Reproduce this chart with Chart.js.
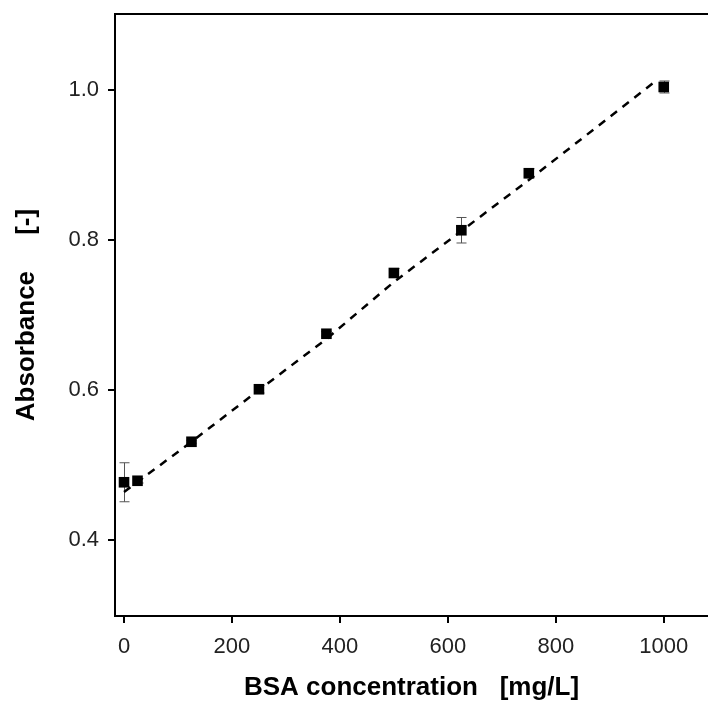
<!DOCTYPE html>
<html>
<head>
<meta charset="utf-8">
<script src="https://cdn.jsdelivr.net/npm/chart.js@4"></script>
<style>
  html, body { margin: 0; padding: 0; background: #fff; }
  #wrap { width: 708px; height: 702px; }
</style>
</head>
<body>
<div id="wrap"><canvas id="bsa-chart" width="708" height="702"></canvas></div>
<script>
'use strict';

// 測定点 (BSA 濃度 mg/L → 吸光度)
const BSA_CONC   = [0, 25, 125, 250, 375, 500, 625, 750, 1000];
const ABSORBANCE = [0.477, 0.479, 0.531, 0.601, 0.675, 0.756, 0.813, 0.889, 1.004];
const ABS_ERROR  = [0.026, 0.003, 0.002, 0.005, 0.003, 0.006, 0.017, 0.006, 0.008];

// 破線（フィット線）— 図から読み取り
const FIT_X = [0, 125, 250, 375, 500, 625, 750, 980];
const FIT_Y = [0.464, 0.531, 0.600, 0.668, 0.744, 0.812, 0.880, 1.009];

const X_TICKS = [0, 200, 400, 600, 800, 1000];
const Y_TICKS = [0.4, 0.6, 0.8, 1.0];

const FONT = '"Liberation Sans", Arial, sans-serif';

// エラーバー（マーカーの下に描く）
const errorBars = {
  id: 'errorBars',
  beforeDatasetsDraw(chart) {
    const { ctx, scales: { x, y } } = chart;
    ctx.save();
    ctx.strokeStyle = '#555';
    ctx.lineWidth = 1;
    BSA_CONC.forEach((c, i) => {
      const e = ABS_ERROR[i];
      if (!e) return;
      const px = Math.round(x.getPixelForValue(c)) + 0.5;
      const top = y.getPixelForValue(ABSORBANCE[i] + e);
      const bot = y.getPixelForValue(ABSORBANCE[i] - e);
      ctx.beginPath();
      ctx.moveTo(px, top); ctx.lineTo(px, bot);
      ctx.moveTo(px - 5, top); ctx.lineTo(px + 5, top);
      ctx.moveTo(px - 5, bot); ctx.lineTo(px + 5, bot);
      ctx.stroke();
    });
    ctx.restore();
  },
};

// 上枠
const topFrame = {
  id: 'topFrame',
  afterDraw(chart) {
    const { ctx, chartArea: a } = chart;
    ctx.save();
    ctx.strokeStyle = '#000';
    ctx.lineWidth = 2;
    ctx.beginPath();
    ctx.moveTo(a.left - 1, a.top);
    ctx.lineTo(a.right, a.top);
    ctx.stroke();
    ctx.restore();
  },
};

// ラベルによる自動余白を無効化
function noPad(s) {
  s.paddingTop = 0; s.paddingBottom = 0;
  s.paddingLeft = 0; s.paddingRight = 0;
}

new Chart(document.getElementById('bsa-chart'), {
  type: 'scatter',
  data: {
    datasets: [
      {
        label: 'data',
        data: BSA_CONC.map((c, i) => ({ x: c, y: ABSORBANCE[i] })),
        pointStyle: 'rect',
        pointRadius: 7.5,
        backgroundColor: '#000',
        borderColor: '#000',
        borderWidth: 0,
        order: 0,
      },
      {
        label: 'fit',
        type: 'line',
        data: FIT_X.map((c, i) => ({ x: c, y: FIT_Y[i] })),
        borderColor: '#000',
        borderWidth: 2.5,
        borderDash: [8, 7],
        pointRadius: 0,
        fill: false,
        tension: 0,
        order: 1,
      },
    ],
  },
  options: {
    responsive: false,
    animation: false,
    layout: { autoPadding: false, padding: { top: 14, right: 0, left: 0, bottom: 0 } },
    plugins: { legend: { display: false }, tooltip: { enabled: false } },
    scales: {
      x: {
        type: 'linear',
        min: -16.7,
        max: 1082,
        afterBuildTicks: s => { s.ticks = X_TICKS.map(v => ({ value: v })); },
        afterFit: s => { s.height = 86; noPad(s); },
        ticks: {
          color: '#222',
          font: { family: FONT, size: 22 },
          padding: 11,
          maxRotation: 0,
          callback: v => String(v),
        },
        grid: { drawOnChartArea: false, drawTicks: true, tickLength: 7, color: '#000', lineWidth: 2 },
        border: { display: true, color: '#000', width: 2 },
        title: {
          display: true,
          text: 'BSA concentration   [mg/L]',
          color: '#000',
          font: { family: FONT, size: 26, weight: 'bold' },
          padding: { top: 0, bottom: -1 },
        },
      },
      y: {
        type: 'linear',
        min: 0.2987,
        max: 1.1013,
        afterBuildTicks: s => { s.ticks = Y_TICKS.map(v => ({ value: v })); },
        afterFit: s => { s.width = 115; noPad(s); },
        ticks: {
          color: '#222',
          font: { family: FONT, size: 22 },
          padding: 9,
          callback: v => Number(v).toFixed(1),
        },
        grid: { drawOnChartArea: false, drawTicks: true, tickLength: 7, color: '#000', lineWidth: 2 },
        border: { display: true, color: '#000', width: 2 },
        title: {
          display: true,
          text: 'Absorbance     [-]',
          color: '#000',
          font: { family: FONT, size: 26, weight: 'bold' },
          padding: { top: 11, bottom: 0 },
        },
      },
    },
  },
  plugins: [errorBars, topFrame],
});
</script>
</body>
</html>
